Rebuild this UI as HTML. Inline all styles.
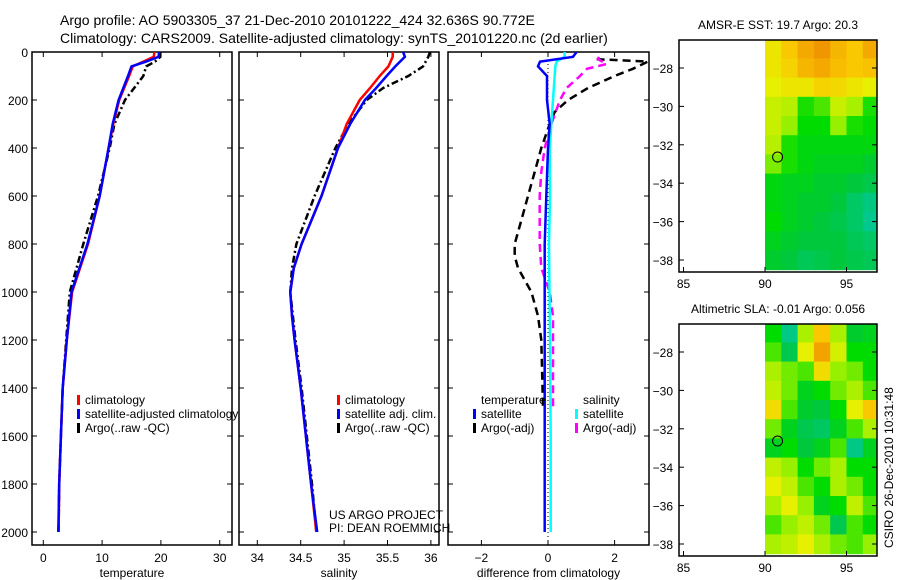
<!DOCTYPE html>
<html><head><meta charset="utf-8"><style>
body{margin:0;background:#fff;}
svg{display:block;font-family:"Liberation Sans",sans-serif;}
</style></head><body>
<svg id="fig" width="900" height="580" viewBox="0 0 900 580">
<defs>
<clipPath id="c1"><rect x="32" y="52" width="200" height="493"/></clipPath>
<clipPath id="c2"><rect x="239" y="52" width="200" height="493"/></clipPath>
<clipPath id="c3"><rect x="448" y="52" width="201" height="493"/></clipPath>
<clipPath id="cm1"><rect x="679" y="40" width="198" height="232"/></clipPath>
<clipPath id="cm2"><rect x="679" y="324" width="198" height="232"/></clipPath>
</defs>
<text x="60" y="25" font-size="14">Argo profile: AO 5903305_37 21-Dec-2010 20101222_424 32.636S 90.772E</text>
<text x="60" y="43" font-size="14">Climatology: CARS2009. Satellite-adjusted climatology: synTS_20101220.nc (2d earlier)</text>
<g id="g"></g>
<text transform="translate(893,548) rotate(-90)" font-size="12">CSIRO 26-Dec-2010 10:31:48</text>
</svg>
<script>
// ---- profile data (depth m) ----
const tDepth=[0,20,40,60,100,200,300,400,600,800,1000,1200,1400,1600,1800,2000];
const tClim=[18.9,18.8,17.0,15.2,14.6,12.9,11.9,11.1,9.6,7.6,4.9,4.0,3.3,3.0,2.7,2.6];
const tSat=[19.7,19.6,17.5,15.0,14.4,12.8,11.8,11.1,9.6,7.5,4.8,4.0,3.3,3.0,2.7,2.55];
const tArgo=[19.9,19.9,19.0,17.5,17.0,13.9,12.1,11.3,9.3,6.8,4.5,3.9,3.3,3.0,2.7,2.6];
const sDepth=[0,20,60,100,150,200,300,400,600,800,900,1000,1100,1200,1400,1600,1800,2000];
const sClim=[35.56,35.56,35.51,35.41,35.30,35.18,35.03,34.93,34.74,34.51,34.42,34.38,34.40,34.43,34.50,34.56,34.62,34.68];
const sSat=[35.68,35.70,35.59,35.49,35.37,35.24,35.07,34.93,34.74,34.51,34.42,34.38,34.40,34.43,34.50,34.56,34.62,34.69];
const sArgo=[35.99,35.97,35.91,35.74,35.45,35.26,35.05,34.90,34.66,34.45,34.40,34.38,34.41,34.44,34.51,34.57,34.63,34.68];
const dDepth=[0,20,40,60,100,200,300,400,600,800,1200,1600,2000];
const dTSat=[0.86,0.75,-0.24,-0.3,-0.03,-0.03,0.05,0.0,-0.05,-0.1,-0.1,-0.1,-0.1];
const dSSat=[0.5,0.5,0.26,0.22,0.2,0.15,0.1,0.05,0.06,0.03,0.06,0.08,0.08];
const aDepth=[30,40,70,100,150,200,250,300,400,500,600,700,800,850,900,1000,1100,1200,1480];
const dTArgo=[1.46,3.0,2.55,2.0,1.2,0.6,0.2,0.05,-0.2,-0.4,-0.6,-0.8,-1.0,-1.0,-0.9,-0.5,-0.3,-0.2,-0.15];
const mDepth=[20,30,50,70,100,150,200,300,400,500,600,800,900,1000,1100,1200,1480];
const dSArgo=[1.53,1.5,1.76,1.17,0.96,0.56,0.36,0.1,-0.1,-0.2,-0.25,-0.25,-0.2,0.05,0.15,0.15,0.15];
const depthTicks=[0,200,400,600,800,1000,1200,1400,1600,1800,2000];
const tTicks=[0,10,20,30];
const sTicks=[34,34.5,35,35.5,36];
const sTickLabels=["34","34.5","35","35.5","36"];
const dTicks=[-2,0,2];
// ---- map data ----
const mapLats=[-27,-28,-29,-30,-31,-32,-33,-34,-35,-36,-37,-38];
const mapLons=[90.5,91.5,92.5,93.5,94.5,95.5,96.5];
const sst=[
[21,21.5,22,22.3,21.8,21.5,22],[21,21.3,21.8,22,21.7,21.5,21.6],[20.8,21,21,21.3,21.2,21,20.8],
[20.6,20.5,19.8,20,20.6,20.4,19.8],[20.6,20.3,19.7,19.7,20.3,19.8,19.7],[20.5,19.8,19.6,19.6,19.6,19.6,19.6],
[20.2,19.8,19.6,19.5,19.5,19.5,19.4],[19.6,19.5,19.5,19.4,19.4,19.3,19.2],[19.6,19.5,19.4,19.4,19.3,19.0,18.8],
[19.7,19.5,19.4,19.3,19.2,19.0,18.7],[19.5,19.4,19.3,19.3,19.3,19.1,19.0],[19.4,19.3,19.1,19.2,19.3,19.2,19.1]];
const sla=[
[0.0,-0.08,0.05,0.12,0.05,-0.03,-0.02],[0.02,-0.05,0.08,0.15,0.07,0.0,0.0],[0.05,0.03,0.02,0.1,0.04,0.03,0.0],
[0.06,0.03,-0.02,0.0,0.03,0.05,0.02],[0.1,0.02,-0.03,-0.04,0.0,0.08,0.12],[0.03,-0.02,-0.05,-0.06,-0.02,0.02,0.05],
[-0.02,0.0,-0.04,-0.02,0.02,-0.08,-0.02],[0.06,0.04,0.0,0.03,0.05,0.0,0.0],[0.08,0.06,0.02,0.0,0.05,0.03,0.0],
[0.05,0.08,0.04,-0.02,0.0,0.06,0.02],[0.02,0.04,0.06,0.03,-0.05,0.02,0.0],[0.05,0.06,0.08,0.05,0.03,0.02,0.04]];
const argoLon=90.772, argoLat=-32.636;
const latTicks=[-28,-30,-32,-34,-36,-38];
const lonTicks=[85,90,95];

const NS='http://www.w3.org/2000/svg';
const G=document.getElementById('g');
function mk(tag,attrs,parent){const e=document.createElementNS(NS,tag);for(const k in attrs)e.setAttribute(k,attrs[k]);(parent||G).appendChild(e);return e;}
const yD=d=>52+0.24*d;

function panel(name,x0,w,xs,ticks,labels,xlabel,clip,depthLabels){
  const g=mk('g',{});
  
  
  mk('rect',{x:x0,y:52,width:w,height:493,fill:'none',stroke:'#000','stroke-width':1.5},g);
  depthTicks.forEach(d=>{
    mk('line',{x1:x0,x2:x0+5,y1:yD(d),y2:yD(d),stroke:'#000'},g);
    mk('line',{x1:x0+w-5,x2:x0+w,y1:yD(d),y2:yD(d),stroke:'#000'},g);
    if(depthLabels){const t=mk('text',{x:x0-4,y:yD(d)+5,'font-size':12,'text-anchor':'end'},g);t.textContent=d;
      
      }
  });
  ticks.forEach((v,i)=>{
    mk('line',{x1:xs(v),x2:xs(v),y1:545,y2:540,stroke:'#000'},g);
    mk('line',{x1:xs(v),x2:xs(v),y1:52,y2:57,stroke:'#000'},g);
    const t=mk('text',{x:xs(v),y:562,'font-size':12,'text-anchor':'middle'},g);t.textContent=labels[i];
    
    
  });
  const xl=mk('text',{x:x0+w/2,y:577,'font-size':12,'text-anchor':'middle'},g);xl.textContent=xlabel;
  
  
  return mk('g',{'clip-path':'url(#'+clip+')'},g);
}
function line(g,name,xs,depths,vals,color,dash){
  const p=mk('polyline',{points:depths.map((d,i)=>xs(vals[i]).toFixed(1)+','+yD(d).toFixed(1)).join(' '),fill:'none',stroke:color,'stroke-width':2.5,'stroke-dasharray':dash||'none'},g);
  
  
}
function legend(x,y,items){
  items.forEach((it,i)=>{
    mk('rect',{x:x,y:y+i*14-9,width:3,height:10,fill:it[1]});
    const t=mk('text',{x:x+8,y:y+i*14,'font-size':12});t.textContent=it[0];
    
    
  });
}
// temperature panel
const xT=v=>43.3+5.88*v;
const p1=panel('temperature-panel',32,200,xT,tTicks,tTicks.map(String),'temperature','c1',true);
line(p1,'argo-temperature',xT,tDepth,tArgo,'#000','7,3,2,3');
line(p1,'climatology-temperature',xT,tDepth,tClim,'#f00');
line(p1,'satellite-temperature',xT,tDepth,tSat,'#00f');
legend(77,404,[['climatology','#f00'],['satellite-adjusted climatology','#00f'],['Argo(..raw -QC)','#000']]);
// salinity panel
const xS=v=>257.3+86.8*(v-34);
const p2=panel('salinity-panel',239,200,xS,sTicks,sTickLabels,'salinity','c2',false);
line(p2,'argo-salinity',xS,sDepth,sArgo,'#000','7,3,2,3');
line(p2,'climatology-salinity',xS,sDepth,sClim,'#f00');
line(p2,'satellite-salinity',xS,sDepth,sSat,'#00f');
legend(337,404,[['climatology','#f00'],['satellite adj. clim.','#00f'],['Argo(..raw -QC)','#000']]);
const pr=mk('text',{x:329,y:519,'font-size':12});pr.textContent='US ARGO PROJECT';


const pi=mk('text',{x:329,y:532,'font-size':12});pi.textContent='PI: DEAN ROEMMICH';


// difference panel
const xDf=v=>548+33.3*v;
const p3=panel('difference-panel',448,201,xDf,dTicks,dTicks.map(v=>v<0?'\u22122':String(v)),'difference from climatology','c3',false);
mk('line',{x1:xDf(0),x2:xDf(0),y1:52,y2:545,stroke:'#000','stroke-dasharray':'1,3'},p3);
line(p3,'argo-temperature-diff',xDf,aDepth,dTArgo,'#000','8,5');
line(p3,'argo-salinity-diff',xDf,mDepth,dSArgo,'#f0f','8,5');
line(p3,'satellite-salinity-diff',xDf,dDepth,dSSat,'#0ff');
line(p3,'satellite-temperature-diff',xDf,dDepth,dTSat,'#00f');
const lt=mk('text',{x:481,y:404,'font-size':12});lt.textContent='temperature';


const ls=mk('text',{x:583,y:404,'font-size':12});ls.textContent='salinity';


legend(473,418,[['satellite','#00f'],['Argo(-adj)','#000']]);
legend(575,418,[['satellite','#0ff'],['Argo(-adj)','#f0f']]);

// maps
function lerp(a,b,t){return a.map((v,i)=>Math.round(v+(b[i]-v)*t));}
const cols=[[0,200,170],[0,200,60],[0,220,0],[150,240,0],[230,240,0],[250,200,0],[240,150,0]];
function cmap(v,stops){
  if(v<=stops[0])return cols[0];
  for(let i=1;i<stops.length;i++){if(v<=stops[i])return lerp(cols[i-1],cols[i],(v-stops[i-1])/(stops[i]-stops[i-1]));}
  return cols[cols.length-1];
}
function map(name,top,title,grid,stops,clip){
  const g=mk('g',{});
  
  
  const xL=lon=>765+16.3*(lon-90);
  const yL=lat=>top+28+19.2*(-28-lat);
  const tt=mk('text',{x:778,y:top-11,'font-size':12,'text-anchor':'middle'},g);tt.textContent=title;
  
  
  const cg=mk('g',{'clip-path':'url(#'+clip+')'},g);
  grid.forEach((row,r)=>row.forEach((v,c)=>{
    const col=cmap(v,stops);
    const cell=mk('rect',{x:xL(mapLons[c]-0.5),y:yL(mapLats[r]+0.5),width:16.3+0.6,height:19.2+0.6,fill:'rgb('+col.join(',')+')'},cg);
    
    
  }));
  mk('rect',{x:679,y:top,width:198,height:232,fill:'none',stroke:'#000','stroke-width':1.5},g);
  latTicks.forEach(l=>{
    mk('line',{x1:679,x2:684,y1:yL(l),y2:yL(l),stroke:'#000'},g);
    mk('line',{x1:872,x2:877,y1:yL(l),y2:yL(l),stroke:'#000'},g);
    const t=mk('text',{x:673,y:yL(l)+5,'font-size':12,'text-anchor':'end'},g);t.textContent='\u2212'+(-l);
    
    
  });
  lonTicks.forEach(l=>{
    mk('line',{x1:xL(l),x2:xL(l),y1:top+232,y2:top+227,stroke:'#000'},g);
    const t=mk('text',{x:xL(l),y:top+248,'font-size':12,'text-anchor':'middle'},g);t.textContent=l;
    
    
  });
  const c=mk('circle',{cx:xL(argoLon),cy:yL(argoLat),r:5,fill:'none',stroke:'#000'},g);
  
  
}
map('sst-map',40,'AMSR-E SST: 19.7 Argo: 20.3',sst,[18.5,19.3,19.7,20.3,20.8,21.5,22.3],'cm1');
map('sla-map',324,'Altimetric SLA: -0.01 Argo: 0.056',sla,[-0.1,-0.04,0,0.04,0.08,0.12,0.16],'cm2');
</script>
</body></html>
